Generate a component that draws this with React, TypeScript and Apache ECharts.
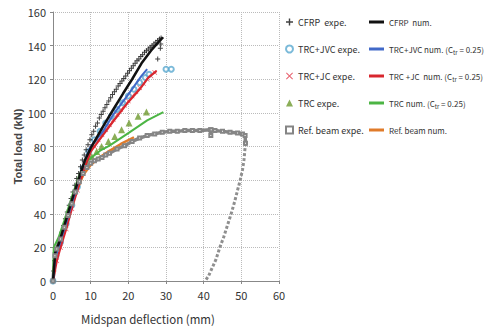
import React, { useEffect, useRef } from "react";
import * as echarts from "echarts";

const xTicks = [0, 10, 20, 30, 40, 50, 60];
const yTicks = [0, 20, 40, 60, 80, 100, 120, 140, 160];

const cfrpExpe: number[][] = [
  [0, 0], [0.2, 6], [0.4, 12], [0.6, 17], [0.9, 20], [1.3, 22], [1.8, 25], [2.3, 29], [2.8, 33], [3.3, 37],
  [3.8, 41], [4.3, 45], [4.8, 49], [5.3, 53], [5.8, 57], [6.3, 61], [6.8, 64], [7.3, 68], [7.8, 72], [8.3, 75],
  [8.8, 78], [9.3, 81], [9.8, 84], [10.3, 87], [10.8, 89], [11.3, 92], [11.8, 94], [12.3, 97], [12.8, 99],
  [13.3, 101], [13.8, 103], [14.3, 105], [14.8, 107], [15.3, 109], [15.8, 111], [16.3, 112.5], [16.8, 114],
  [17.3, 116], [17.8, 117.5], [18.3, 119], [18.8, 120.5], [19.3, 122], [19.8, 123.5], [20.3, 125], [20.8, 126.5],
  [21.3, 128], [21.8, 129.5], [22.3, 131], [22.8, 132], [23.3, 133.5], [23.8, 134.5], [24.3, 136], [24.8, 137],
  [25.3, 138], [25.8, 139], [26.3, 140], [26.8, 141], [27.3, 142], [27.8, 143], [28.3, 144], [28.7, 144.5],
  [28.6, 141], [28.5, 138.5], [27.8, 132],
];
const cfrpNum: number[][] = [
  [0, 0], [0.6, 17], [1.5, 22], [3, 33], [5, 48], [7, 62], [8.5, 72], [10, 79], [13.3, 92], [16, 102],
  [18.6, 111.5], [21, 120], [23.5, 129.5], [26, 137], [29.2, 145],
];
const jvcExpe: number[][] = [
  [0, 0], [0.8, 15], [2, 23], [3.5, 34], [5, 45], [6.5, 56], [8, 67], [9.5, 77], [11, 84], [12.5, 89],
  [14, 94], [15.5, 98], [17, 102], [18.5, 106], [20, 110], [21.5, 114], [23, 118], [24.5, 121], [25.5, 123],
  [30, 126], [31.4, 126],
];
const jvcNum: number[][] = [
  [0, 0], [0.6, 14], [1.5, 20], [3, 31], [5, 46], [7, 61], [8.5, 72], [10, 80], [13.3, 89], [16, 99],
  [20, 111], [23.5, 122], [25, 126],
];
const jcExpe: number[][] = [
  [0, 0], [1, 12], [2, 20], [3.5, 31], [5, 43], [6.5, 54], [8, 65], [9.5, 74], [11, 80], [12, 84],
  [13, 87], [14, 90], [15, 93], [16, 96], [17, 99], [18, 102], [19, 104.5], [20, 107], [21, 110],
  [22, 112.5], [23, 115], [24, 117.5], [25, 120], [26, 122], [27, 124],
];
const jcNum: number[][] = [
  [0, 0], [1, 12], [2, 20], [3.5, 31], [5, 43], [7, 58], [8.5, 68], [10, 77], [13.3, 87], [16, 95],
  [20, 106.5], [23, 114], [25.3, 121], [27.5, 125],
];
const trcExpe: number[][] = [
  [8.9, 71], [10.3, 74], [11.6, 77], [12.9, 80], [14.7, 83], [16.4, 86], [18.2, 90], [20.2, 94],
  [22.6, 98], [24.8, 100.5],
];
const trcNum: number[][] = [
  [0, 0], [0.2, 20], [1.5, 26], [3, 36], [5, 50], [7, 63], [8.5, 70], [10, 73], [12.5, 77.5], [15, 80.5],
  [20, 88], [25, 95.5], [29.3, 100.5],
];
const refExpeLoad: number[][] = [
  [0, 0], [0.5, 15], [1, 19], [2, 25], [3, 32], [4, 39], [5, 46], [6, 53], [7, 59], [8, 64], [9, 67.5],
  [10, 70], [11, 71.5], [12, 72.5], [13, 73.5], [14, 75], [15, 76], [17, 78.5], [19, 80.5], [21, 83],
  [23, 85], [25, 86.5], [27, 87.5], [29, 88.5], [31, 89], [33, 89], [35, 89.5], [37, 89.5], [39, 89.5],
  [41.8, 90], [41.9, 86.5], [42, 90], [43, 89.5], [45, 89], [47, 88.5], [49, 88], [50.3, 87.5], [51, 86.5],
  [51.1, 82],
];
const refExpeUnload: number[][] = [
  [51.1, 82], [50.7, 72], [50.3, 66], [49.7, 60], [49, 54], [48.2, 47], [47.3, 40], [46.3, 33], [45.3, 26],
  [44.3, 20], [43.3, 13], [42.3, 8], [41.3, 3], [40.4, 0],
];
const refNum: number[][] = [
  [0, 0], [0.5, 15], [2, 24], [4, 38], [6, 52], [8, 63], [10, 69], [12, 73], [15, 77.5], [18, 81.5],
  [21.5, 85.5],
];

const expeNames = ["CFRP  expe.", "TRC+JVC expe.", "TRC+JC expe.", "TRC expe.", "Ref. beam expe."];
const numNames = ["CFRP  num.", "TRC+JVC num.", "TRC +JC  num.", "TRC num.", "Ref. beam num."];
const numLabels: Record<string, string> = {
  "CFRP  num.": "CFRP  num.",
  "TRC+JVC num.": "TRC+JVC num. (C{sub|tr} = 0.25)",
  "TRC +JC  num.": "TRC +JC  num. (C{sub|tr} = 0.25)",
  "TRC num.": "TRC num. (C{sub|tr} = 0.25)",
  "Ref. beam num.": "Ref. beam num.",
};

const PLUS = "path://M4,0H6V4H10V6H6V10H4V6H0V4H4Z";
const CROSS = "path://M1,0L5,4L9,0L10,1L6,5L10,9L9,10L5,6L1,10L0,9L4,5L0,1Z";
const FONT = "'Noto Sans CJK JP', 'Liberation Sans', Arial, sans-serif";

function legendText(size: number) {
  return {
    fontFamily: FONT,
    fontSize: size,
    color: "#333",
    lineHeight: 14,
    rich: {
      sub: { fontFamily: FONT, fontSize: 6, lineHeight: 10, verticalAlign: "bottom", padding: [6, 0, 0, 0], color: "#333" },
    },
  };
}

export default function App() {
  const ref = useRef<HTMLDivElement>(null);
  useEffect(() => {
    document.body.style.margin = "0";
    const chart = echarts.init(ref.current!, null, { renderer: "svg" });
    chart.setOption({
      animation: false,
      backgroundColor: "#fff",
      grid: { left: 53, right: 208, top: 12, bottom: 50 },
      legend: [
        {
          orient: "vertical",
          left: 280,
          top: 10,
          itemWidth: 7,
          itemHeight: 7,
          itemGap: 13,
          textStyle: legendText(9),
          data: [
            { name: expeNames[0] },
            { name: expeNames[1] },
            { name: expeNames[2] },
            { name: expeNames[3] },
            { name: expeNames[4], icon: "emptyRect" },
          ],
        },
        {
          orient: "vertical",
          left: 364,
          top: 10,
          itemWidth: 15,
          itemHeight: 3,
          itemGap: 13,
          icon: "rect",
          textStyle: legendText(8),
          formatter: (n: string) => numLabels[n] || n,
          data: numNames,
        },
      ],
      xAxis: {
        type: "value",
        min: xTicks[0],
        max: xTicks[xTicks.length - 1],
        interval: 10,
        name: "Midspan deflection (mm)",
        nameLocation: "middle",
        nameGap: 32,
        nameTextStyle: { fontFamily: FONT, fontSize: 11.5, color: "#333", padding: [0, 36, 0, 0] },
        axisLine: { lineStyle: { color: "#888" } },
        axisTick: { show: true, length: 3, lineStyle: { color: "#888" } },
        axisLabel: { fontFamily: FONT, fontSize: 11, color: "#333", margin: 8 },
        splitLine: { show: true, lineStyle: { color: "#bbb", type: "dotted" } },
      },
      yAxis: {
        type: "value",
        min: yTicks[0],
        max: yTicks[yTicks.length - 1],
        interval: 20,
        name: "Total load (kN)",
        nameLocation: "middle",
        nameGap: 26,
        nameTextStyle: { fontFamily: "'Liberation Sans', Arial, sans-serif", fontSize: 11, fontWeight: "bold", color: "#444" },
        axisLine: { show: true, lineStyle: { color: "#888" } },
        axisTick: { show: true, length: 3, lineStyle: { color: "#888" } },
        axisLabel: { fontFamily: FONT, fontSize: 11, color: "#333", margin: 7 },
        splitLine: { show: true, lineStyle: { color: "#bbb", type: "dotted" } },
      },
      series: [
        {
          name: expeNames[4], type: "line", data: refExpeLoad, color: "#858585",
          lineStyle: { width: 3.5, color: "#858585" }, symbol: "emptyRect", symbolSize: 3, showSymbol: true,
          itemStyle: { color: "#858585", borderColor: "#858585" },
        },
        {
          name: expeNames[4], type: "line", data: refExpeUnload, color: "#858585",
          lineStyle: { width: 3, color: "#8f8f8f", type: [3, 2] }, symbol: "none",
        },
        {
          name: numNames[4], type: "line", data: refNum, color: "#e07b2a", showSymbol: false,
          lineStyle: { width: 2.5, color: "#e07b2a" },
        },
        {
          name: expeNames[3], type: "scatter", data: trcExpe, color: "#6e9a2e",
          symbol: "triangle", symbolSize: 7, itemStyle: { color: "#6e9a2e" },
        },
        {
          name: numNames[3], type: "line", data: trcNum, color: "#4cb544", showSymbol: false,
          lineStyle: { width: 2, color: "#4cb544" },
        },
        {
          name: expeNames[2], type: "scatter", data: jcExpe, color: "#e23a4a",
          symbol: CROSS, symbolSize: 5, itemStyle: { color: "#e23a4a" },
        },
        {
          name: numNames[2], type: "line", data: jcNum, color: "#d8262e", showSymbol: false,
          lineStyle: { width: 2.2, color: "#d8262e" },
        },
        {
          name: expeNames[1], type: "scatter", data: jvcExpe, color: "#5aa9d0",
          symbol: "emptyCircle", symbolSize: 5, itemStyle: { color: "#5aa9d0", borderColor: "#5aa9d0", borderWidth: 1 },
        },
        {
          name: numNames[1], type: "line", data: jvcNum, color: "#4169c8", showSymbol: false,
          lineStyle: { width: 2, color: "#4169c8" },
        },
        {
          name: expeNames[0], type: "scatter", data: cfrpExpe, color: "#111",
          symbol: PLUS, symbolSize: 5, itemStyle: { color: "#111" },
        },
        {
          name: numNames[0], type: "line", data: cfrpNum, color: "#111", showSymbol: false,
          lineStyle: { width: 2.5, color: "#111" },
        },
      ],
    });
    return () => chart.dispose();
  }, []);
  return <div ref={ref} style={{ position: "fixed", left: 0, top: 0, width: 487, height: 331 }} />;
}
